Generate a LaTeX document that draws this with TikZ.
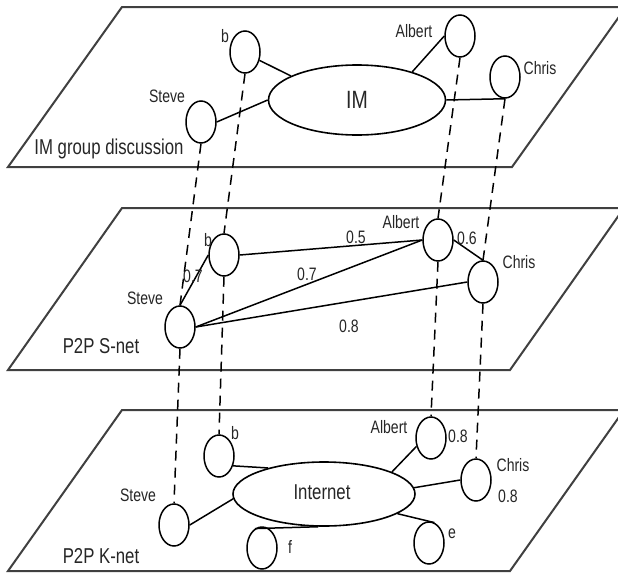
\documentclass[tikz,border=0pt]{standalone}
\usepackage{fontspec}
\setmainfont[FakeStretch=0.78]{Liberation Sans}
\usetikzlibrary{shapes.geometric}

\tikzset{
  plane/.style={draw=black!75, line width=2pt, line join=miter},
  peer/.style={ellipse, draw, line width=1.5pt, minimum width=30pt,
    minimum height=42pt, inner sep=0pt},
  hub/.style={ellipse, draw, line width=1.6pt, inner sep=0pt},
  link/.style={line width=1.5pt},
  vlink/.style={line width=1.5pt, dash pattern=on 10pt off 7pt},
  lbl/.style={font=\fontsize{18}{21}\selectfont, inner sep=0pt, text=black!85},
  title/.style={font=\fontsize{21.5}{25}\selectfont, inner sep=0pt, text=black!85},
}

\begin{document}
\begin{tikzpicture}[x=1pt, y=-1pt]
  \useasboundingbox (0,0) rectangle (618,573);
  \fill[white] (0,0) rectangle (618,573);
  \clip (0,0) rectangle (618,573);

  % ---------- the three layers ----------
  \draw[plane] (122,7)   -- (626,7)   -- (512,167) -- (8,167) -- cycle;
  \draw[plane] (122,208) -- (624,208) -- (510,370) -- (8,370) -- cycle;
  \draw[plane] (122,410) -- (624,410) -- (510,571) -- (8,571) -- cycle;

  % ---------- IM group discussion ----------
  \node[hub, minimum width=177pt, minimum height=70pt] (IM) at (357,100) {};
  \node[title, font=\fontsize{25}{28}\selectfont] at (357,100) {IM};
  \node[peer] (tb)      at (245,52)  {};
  \node[peer] (tsteve)  at (201,122) {};
  \node[peer] (talbert) at (460,36)  {};
  \node[peer] (tchris)  at (505,77)  {};

  \node[lbl] at (225,36)  {b};
  \node[lbl] at (167,96)  {Steve};
  \node[lbl] at (414,31)  {Albert};
  \node[lbl] at (540,68)  {Chris};
  \node[title] at (109,149) {IM group discussion};

  \draw[link] (tb.-30)      -- (IM.160);
  \draw[link] (tsteve.east) -- (IM.west);
  \draw[link] (talbert.west) -- (IM.27);
  \draw[link] (IM.east)     -- (tchris.south);

  % ---------- P2P S-net ----------
  \node[peer] (mb)      at (224,255) {};
  \node[peer] (malbert) at (438,240) {};
  \node[peer] (mchris)  at (483,282) {};
  \node[peer] (msteve)  at (180,327) {};

  \node[lbl] at (208,240) {b};
  \node[lbl] at (401,222) {Albert};
  \node[lbl] at (519,262) {Chris};
  \node[lbl] at (145,298) {Steve};
  \node[title] at (101,346) {P2P S-net};

  \draw[link] (mb.east)      -- (malbert.west);
  \draw[link] (msteve.east)  -- (malbert.west);
  \draw[link] (msteve.east)  -- (mchris.west);
  \draw[link] (msteve.north) -- (mb.west);
  \draw[link] (malbert.east) -- (mchris.north);

  \node[lbl] at (356,237) {0.5};
  \node[lbl] at (307,274) {0.7};
  \node[lbl] at (349,326) {0.8};
  \node[lbl] at (193,276) {0.7};
  \node[lbl] at (467,238) {0.6};

  % ---------- P2P K-net ----------
  \node[hub, minimum width=182pt, minimum height=64pt] (net) at (324,494) {};
  \node[title] at (322,492) {Internet};
  \node[peer] (bb)      at (219,456) {};
  \node[peer] (bsteve)  at (174,525) {};
  \node[peer] (balbert) at (431,438) {};
  \node[peer] (bchris)  at (476,480) {};
  \node[peer] (bf)      at (262,548) {};
  \node[peer] (be)      at (429,543) {};

  \node[lbl] at (235,433) {b};
  \node[lbl] at (138,495) {Steve};
  \node[lbl] at (389,427) {Albert};
  \node[lbl] at (458,436) {0.8};
  \node[lbl] at (513,465) {Chris};
  \node[lbl] at (508,496) {0.8};
  \node[lbl] at (290,547) {f};
  \node[lbl] at (452,534) {e};
  \node[title] at (101,556) {P2P K-net};

  \draw[link] (bb.-35)       -- (net.155);
  \draw[link] (bsteve.east)  -- (net.183);
  \draw[link] (balbert.210)  -- (net.18);
  \draw[link] (bchris.west)  -- (net.4);
  \draw[link] (net.-15)      -- (be.75);
  \draw[link] (bf.110)       -- (net.-100);

  % ---------- the same user on every layer ----------
  \draw[vlink] (tsteve.south)  -- (msteve.north);
  \draw[vlink] (tb.south)      -- (mb.north);
  \draw[vlink] (talbert.south) -- (malbert.north);
  \draw[vlink] (tchris.south)  -- (mchris.north);
  \draw[vlink] (msteve.south)  -- (bsteve.north);
  \draw[vlink] (mb.south)      -- (bb.north);
  \draw[vlink] (malbert.south) -- (balbert.north);
  \draw[vlink] (mchris.south)  -- (bchris.north);
\end{tikzpicture}
\end{document}
